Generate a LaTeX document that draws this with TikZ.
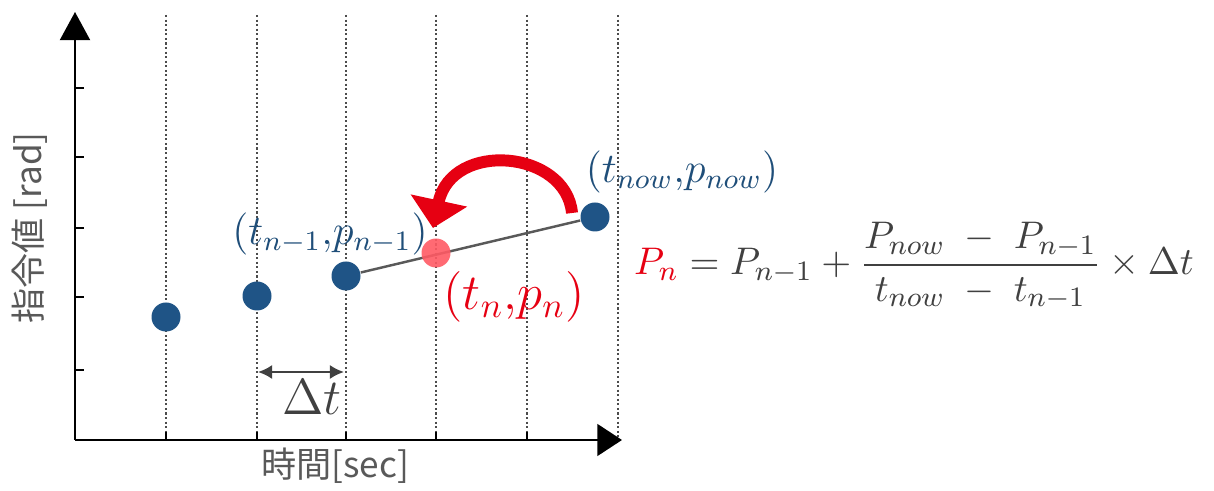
\documentclass[tikz,border=0pt]{standalone}
\usepackage{amsmath}
\usepackage{fontspec}
\setsansfont{Noto Sans CJK JP}
\definecolor{dotblue}{RGB}{31, 84, 134}
\definecolor{labelblue}{RGB}{31, 78, 121}
\definecolor{arrowred}{RGB}{230, 0, 18}
\definecolor{pointred}{RGB}{255, 90, 100}
\definecolor{axisgray}{RGB}{89, 89, 89}
\definecolor{mathgray}{RGB}{64, 64, 64}
\usetikzlibrary{arrows.meta, positioning, backgrounds}

\begin{document}
\begin{tikzpicture}[x=0.1mm, y=-0.1mm,
  sample/.style={circle, fill=dotblue, inner sep=0pt, minimum size=2.9mm},
  gridline/.style={draw=black!70, line width=0.5pt, dash pattern=on 0.6pt off 0.7pt},
  axisline/.style={draw=black, line width=0.7pt}]
  \useasboundingbox (0,0) rectangle (1214,491);

  % Grid
  \begin{scope}[on background layer]
    \foreach \x in {166, 257, 346, 436, 527, 618}
      \draw[gridline] (\x,15) -- (\x,440);
  \end{scope}

  % Axes
  \coordinate (origin) at (75,440);
  \coordinate (ytop) at (75,12);
  \coordinate (xend) at (622,440);
  \draw[axisline, -{Triangle[width=8.5pt, length=8pt]}] (origin) -- (ytop);
  \draw[axisline, -{Triangle[width=9pt, length=7pt]}] (origin) -- (xend);
  \foreach \x in {166, 257, 346, 436, 527}
    \draw[axisline] (\x,440) -- (\x,432);
  \foreach \y in {88, 157, 228, 297, 370}
    \draw[axisline] (75,\y) -- (84,\y);
  \node[rotate=90, text=axisgray, font=\sffamily\fontsize{10}{12}\selectfont] (ylabel) at (30,228) {指令値 [rad]};
  \node[text=axisgray, font=\sffamily\fontsize{10}{12}\selectfont] (xlabel) at (335,466) {時間[sec]};

  % Samples
  \node[sample] (s1) at (166,317) {};
  \node[sample] (s2) at (257,296) {};
  \node[sample] (sprev) at (346,276) {};
  \node[sample] (snow) at (595,217) {};
  \node[sample, fill=pointred, fill opacity=0.9] (sn) at (436,253) {};
  \begin{scope}[on background layer]
    \draw[black!65, line width=0.7pt] (sprev) -- (snow);
  \end{scope}

  \node[text=labelblue, font=\fontsize{11.5}{13}\selectfont] (lprev) at (330,234) {$(t_{n-1}{,}p_{n-1})$};
  \node[text=labelblue, font=\fontsize{11.5}{13}\selectfont] (lnow) at (682,172) {$(t_{now}{,}p_{now})$};
  \node[text=arrowred, font=\Large] (ln) at (514,297) {$(t_n{,}p_n)$};

  % Delta t
  \coordinate (dtl) at (258,372);
  \coordinate (dtr) at (344,372);
  \draw[mathgray, line width=0.6pt, {Latex[length=4pt, width=4pt]}-{Latex[length=4pt, width=4pt]}] (dtl) -- (dtr);
  \node[text=mathgray, font=\fontsize{14}{16}\selectfont] (dt) at (312,397) {$\Delta t$};

  % Interpolation arrow
  \coordinate (arcstart) at (572,213);
  \coordinate (arcend) at (433,228);
  \draw[arrowred, line width=3.4pt, -{Triangle[width=16pt, length=8pt]}] (arcstart) .. controls (566,150) and (452,140) .. (arcend);

  % Formula
  \node[text=mathgray, font=\fontsize{11.2}{13}\selectfont] (formula) at (914,266)
    {$\textcolor{arrowred}{P_n} = P_{n-1} + \dfrac{P_{now}\;-\;P_{n-1}}{t_{now}\;-\;t_{n-1}} \times \Delta t$};
\end{tikzpicture}
\end{document}
